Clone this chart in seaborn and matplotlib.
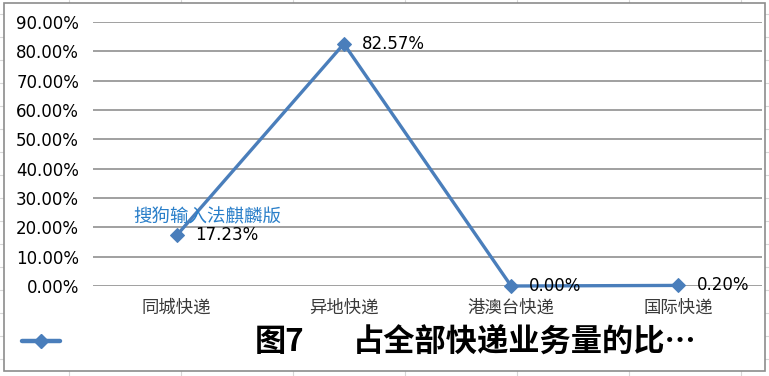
import matplotlib
matplotlib.use("Agg")
import matplotlib.pyplot as plt
from matplotlib.lines import Line2D
from matplotlib.patches import Rectangle
import seaborn as sns
import pandas as pd

categories = ["同城快递", "异地快递", "港澳台快递", "国际快递"]
shares = [0.1723, 0.8257, 0.0000, 0.0020]
value_labels = ["17.23%", "82.57%", "0.00%", "0.20%"]
y_ticks = [0.0, 0.1, 0.2, 0.3, 0.4, 0.5, 0.6, 0.7, 0.8, 0.9]
y_tick_labels = ["0.00%", "10.00%", "20.00%", "30.00%", "40.00%", "50.00%",
                 "60.00%", "70.00%", "80.00%", "90.00%"]
legend_prefix = "图7"
legend_title = "占全部快递业务量的比…"
watermark = "搜狗输入法麒麟版"

sns.set_style("white")
plt.rcParams["font.family"] = ["DejaVu Sans", "Noto Sans CJK SC"]
CJK = ["Noto Sans CJK SC", "DejaVu Sans"]

W, H = 769, 376
fig = plt.figure(figsize=(W / 100, H / 100), dpi=100)
fig.patch.set_facecolor("white")

def fx(px):
    return px / W

def fy(py):
    return 1 - py / H

# spreadsheet background grid
for x in range(69, W, 112):
    fig.add_artist(Line2D([fx(x), fx(x)], [0, 1], color="#d6d6d6", lw=0.8, zorder=-3))
for y in range(14, H, 23):
    fig.add_artist(Line2D([0, 1], [fy(y), fy(y)], color="#d6d6d6", lw=0.8, zorder=-3))

# chart area
fig.add_artist(Rectangle((fx(4), fy(371)), fx(765) - fx(4), fy(3) - fy(371),
                         facecolor="white", edgecolor="#8c8c8c", lw=1.2, zorder=-2))

ax = fig.add_axes([fx(93), fy(286), fx(762) - fx(93), fy(22) - fy(286)])
ax.set_facecolor("none")

df = pd.DataFrame({"cat": categories, "share": shares})
blue = "#4a7ebb"
sns.lineplot(data=df, x="cat", y="share", ax=ax, color=blue, lw=2.4,
             marker="D", markersize=7.5, markeredgecolor=blue, sort=False,
             clip_on=False)

ax.set_xlim(-0.5, len(categories) - 0.5)
ax.set_ylim(0, 0.9)
ax.set_yticks(y_ticks)
ax.set_yticklabels(y_tick_labels, fontsize=12, color="black")
ax.yaxis.grid(True, color="#868686", lw=1.1)
ax.set_axisbelow(True)
ax.tick_params(axis="y", length=0, pad=10)
ax.tick_params(axis="x", length=0, pad=9)
ax.set_xticks(range(len(categories)))
ax.set_xticklabels(categories, fontsize=12.5, color="#3a3a3a", family=CJK)
ax.set_xlabel("")
ax.set_ylabel("")
for s in ax.spines.values():
    s.set_visible(False)

for i, (v, lab) in enumerate(zip(shares, value_labels)):
    ax.annotate(lab, (i, v), xytext=(13, 0), textcoords="offset points",
                ha="left", va="center", fontsize=12, color="black")

# watermark overlay
fig.text(fx(133), fy(217), watermark, family=CJK, fontsize=13.3, color="#2a7fc9",
         fontweight="medium", ha="left", va="center")

# legend
fig.add_artist(Line2D([fx(22), fx(60)], [fy(341), fy(341)], color=blue, lw=3.2))
fig.add_artist(Line2D([fx(41)], [fy(341)], color=blue, marker="D", markersize=7.5,
                      markeredgecolor=blue))
fig.text(fx(255), fy(342), legend_prefix, family=CJK, fontsize=22.5, fontweight="bold",
         ha="left", va="center", color="black")
fig.text(fx(353), fy(342), legend_title, family=CJK, fontsize=22.5, fontweight="bold",
         ha="left", va="center", color="black")

fig.savefig("out.png", dpi=100)
